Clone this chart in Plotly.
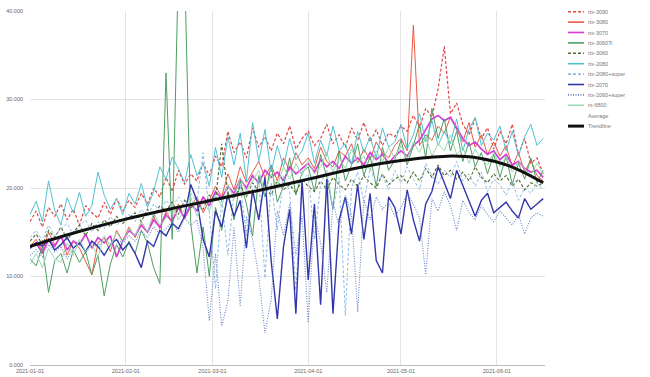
import pandas as pd
import plotly.graph_objects as go

# ---- data (values in thousands), one point every 2 days from 2021-01-01 ----
start_date = "2021-01-01"
n_points = 84

rtx3090 = [16.2, 17.4, 15.6, 17.8, 16.8, 18.2, 16.4, 17.6, 15.8, 18.0, 17.2, 16.6, 18.4, 17.0, 18.8, 17.4,
           18.6, 17.8, 19.4, 18.2, 20.0, 19.0, 21.2, 19.6, 22.0, 20.4, 21.6, 20.8, 22.8, 21.4,
           23.6, 22.4, 26.4, 24.0, 25.2, 23.4, 26.8, 24.6, 25.8, 24.2, 26.2, 25.0, 27.0, 24.4, 25.6,
           26.4, 24.8, 25.6, 27.2, 25.0, 26.0, 24.6, 26.8, 25.4, 27.4, 25.2, 26.6, 24.8, 26.2, 25.8,
           27.0, 26.4, 28.2, 26.8, 29.0, 28.0, 31.2, 36.0, 28.4, 29.6, 27.2, 26.0, 27.8, 25.6, 26.8, 24.4,
           26.4, 25.0, 27.2, 23.8, 25.6, 22.8, 23.4, 21.6]
rtx3080 = [13.4, 14.2, 12.8, 15.0, 13.6, 14.6, 12.4, 14.0, 13.2, 11.6, 10.2, 13.8, 14.4, 12.8, 15.2, 14.0,
           15.6, 14.4, 16.2, 15.0, 16.8, 15.4, 17.4, 16.0, 18.2, 16.6, 17.8, 19.0, 17.2, 18.6,
           20.2, 19.0, 21.6, 19.8, 22.4, 20.6, 21.8, 23.0, 21.2, 22.6, 20.8, 23.4, 22.0, 24.0, 22.6,
           23.4, 22.2, 24.6, 23.0, 22.4, 24.2, 23.6, 25.0, 22.8, 24.4, 23.2, 25.2, 24.0, 23.4, 24.8,
           25.6, 24.2, 38.4, 24.8, 26.0, 25.4, 27.0, 26.2, 28.0, 26.6, 25.2, 27.4, 24.6, 26.0, 23.8, 25.2,
           23.6, 24.8, 22.4, 24.0, 21.8, 23.2, 21.4, 20.8]
rtx3070 = [13.2, 13.8, 12.6, 14.2, 13.4, 14.6, 13.0, 14.0, 13.6, 14.8, 13.2, 14.4, 13.8, 14.6, 12.2, 14.0,
           15.2, 14.6, 15.8, 15.0, 16.4, 15.6, 17.0, 16.2, 17.8, 16.6, 18.2, 17.4, 19.0, 18.0,
           19.6, 18.8, 20.2, 19.4, 21.0, 20.0, 21.4, 20.6, 22.0, 21.2, 21.8, 20.8, 22.4, 21.6, 22.2,
           22.8, 21.8, 23.2, 22.4, 23.0, 22.2, 23.6, 22.8, 23.4, 22.6, 24.0, 23.2, 23.8, 22.8, 23.6,
           24.2, 23.6, 24.8, 25.4, 26.6, 27.8, 28.2, 27.6, 28.0, 26.8, 25.6, 24.8, 25.2, 24.4, 23.8, 24.2,
           23.2, 23.8, 22.6, 23.0, 22.2, 21.8, 22.0, 21.2]
rtx3060ti = [12.0, 11.2, 13.4, 8.2, 11.8, 12.6, 10.4, 13.0, 11.6, 12.8, 10.2, 12.4, 7.8, 11.4, 13.6, 12.2,
             14.0, 12.6, 15.2, 13.8, 11.0, 9.2, 33.0, 14.2, 45.0, 45.0, 16.0, 10.4, 15.6, 10.0,
             17.8, 15.2, 19.6, 16.4, 20.8, 18.2, 14.6, 21.4, 19.0, 22.6, 18.4, 20.2, 23.4, 19.2, 21.8,
             22.4, 19.6, 23.8, 21.2, 17.6, 24.2, 20.8, 22.6, 25.0, 21.4, 23.6, 20.2, 24.6, 22.0, 23.2,
             25.4, 22.6, 24.8, 27.2, 23.4, 29.0, 25.6, 27.8, 24.2, 26.4, 23.0, 25.2, 22.4, 24.0, 21.6, 23.8,
             21.2, 23.6, 20.4, 22.8, 21.0, 23.4, 20.6, 22.0]
rtx3060 = [14.0, 14.8, 13.6, 15.2, 14.4, 15.6, 14.2, 15.0, 15.8, 14.6, 16.0, 15.2, 16.4, 15.6, 16.8, 16.0,
           16.6, 17.2, 16.2, 17.6, 16.8, 18.0, 17.4, 18.4, 17.0, 18.6, 17.8, 18.2, 17.6, 19.2,
           18.6, 25.0, 19.4, 18.8, 20.2, 19.0, 20.6, 19.6, 20.0, 19.2, 20.8, 19.8, 20.4, 19.4, 21.0,
           20.2, 19.6, 20.8, 19.8, 21.2, 20.4, 19.8, 21.0, 20.2, 21.4, 20.6, 20.0, 21.6, 20.4, 21.0,
           21.4, 20.6, 21.8, 20.8, 22.2, 21.2, 22.6, 21.4, 22.0, 21.0, 21.8, 20.8, 22.4, 21.2, 20.6, 21.6,
           20.8, 21.4, 20.2, 21.0, 19.8, 20.6, 20.2, 20.6]
rtx2080 = [17.0, 18.5, 16.2, 20.8, 17.5, 15.8, 18.9, 17.2, 19.5, 16.8, 18.0, 21.8, 19.2, 17.6, 18.8, 17.0,
           19.4, 18.2, 20.5, 17.8, 19.6, 22.4, 21.0, 23.5, 22.2, 20.6, 23.8, 21.4, 22.8, 20.2,
           24.6, 21.2, 25.8, 22.6, 26.2, 20.8, 27.4, 23.0, 26.6, 21.8, 24.8, 22.4, 25.6, 23.2, 24.2,
           26.2, 22.8, 25.4, 23.6, 27.0, 24.2, 25.0, 22.6, 26.4, 24.0, 25.8, 23.4, 26.8, 24.6, 25.2,
           27.2, 24.4, 26.0, 28.4, 25.2, 27.6, 24.8, 26.4, 25.0, 27.8, 24.2, 26.6, 28.0, 24.8, 26.2, 25.4,
           27.0, 24.2, 26.4, 23.6, 25.8, 27.2, 24.8, 25.6]
rtx2080super = [14.4, 15.2, 14.0, 15.8, 14.6, 15.4, 16.0, 14.8, 15.6, 16.4, 15.0, 16.2, 15.4, 16.8, 15.8, 16.4,
                17.0, 16.2, 17.6, 16.8, 18.2, 17.4, 18.6, 17.8, 19.0, 18.0, 19.4, 18.4, 24.0, 17.2,
                8.6, 18.8, 12.4, 19.6, 20.4, 14.6, 19.8, 21.0, 9.8, 20.6, 15.2, 21.4, 19.6, 8.4, 20.8,
                21.6, 14.2, 20.4, 22.0, 17.6, 21.2, 5.6, 20.0, 21.8, 18.4, 22.2, 20.6, 21.4, 19.8, 22.0,
                20.6, 22.4, 21.0, 19.8, 22.8, 21.4, 20.4, 22.0, 21.2, 23.0, 20.8, 21.6, 20.2, 21.8, 19.6, 21.0,
                20.4, 19.2, 20.8, 18.6, 20.0, 19.4, 20.6, 19.8]
rtx2070 = [13.2, 13.8, 13.4, 14.2, 13.0, 13.6, 14.4, 13.2, 13.8, 12.8, 14.0, 13.4, 12.4, 13.6, 14.2, 13.0,
           13.8, 12.6, 11.0, 14.0, 13.4, 15.2, 14.6, 16.0, 15.4, 16.8, 20.4, 18.6, 14.2, 12.2,
           17.4, 15.6, 19.2, 16.8, 18.6, 13.2, 19.8, 16.4, 21.2, 11.8, 5.2, 13.4, 17.6, 5.8, 20.8,
           9.6, 18.2, 6.8, 21.0, 5.8, 16.4, 19.0, 14.8, 20.4, 14.2, 19.4, 11.8, 10.4, 19.0, 17.8,
           14.8, 19.8, 16.4, 14.0, 18.2, 19.6, 22.4, 20.6, 18.8, 22.0, 20.2, 18.4, 16.8, 18.6, 19.4, 17.2,
           17.8, 18.4, 17.4, 16.6, 18.8, 17.6, 18.2, 18.8]
rtx2060super = [12.4, 13.0, 12.2, 13.6, 12.8, 13.4, 12.0, 13.2, 14.0, 12.6, 13.8, 13.2, 14.4, 13.6, 14.2, 13.8,
                14.6, 14.0, 15.2, 14.4, 15.6, 14.8, 15.4, 16.2, 15.0, 16.6, 15.8, 16.4, 13.2, 5.0,
                12.6, 4.4, 7.2, 15.6, 6.6, 16.8, 14.2, 10.0, 3.6, 7.4, 17.4, 14.6, 18.2, 12.4, 16.8,
                4.8, 17.2, 13.8, 8.2, 18.4, 15.6, 19.2, 17.0, 6.0, 18.6, 16.4, 19.0, 17.6, 18.4, 16.8,
                17.8, 19.4, 18.2, 16.6, 10.2, 18.8, 17.4, 19.6, 18.0, 15.2, 18.6, 17.2, 16.4, 18.0, 17.0, 16.2,
                17.4, 16.6, 15.8, 17.0, 14.8, 16.6, 17.2, 16.8]
rx6800 = [11.4, 12.6, 11.0, 13.2, 12.0, 11.6, 13.8, 12.4, 14.2, 12.8, 13.6, 12.2, 14.6, 13.4, 15.0, 13.8,
          15.4, 14.6, 16.2, 15.0, 17.2, 15.8, 16.6, 18.0, 16.4, 17.6, 19.0, 16.8, 18.4, 17.4,
          19.2, 18.0, 20.4, 18.8, 21.2, 19.6, 20.8, 22.0, 19.4, 21.6, 20.2, 22.4, 21.0, 22.8, 21.4,
          23.0, 21.6, 22.4, 24.0, 21.8, 23.4, 22.2, 24.4, 22.8, 23.6, 22.0, 24.2, 23.0, 24.6, 23.4,
          24.8, 23.2, 25.2, 24.0, 25.8, 23.6, 25.0, 24.2, 26.0, 23.8, 24.6, 22.8, 24.4, 23.2, 22.6, 24.0,
          22.4, 23.6, 21.8, 23.0, 22.2, 21.4, 22.8, 21.6]

trend_dates = ["2021-01-01", "2021-01-16", "2021-01-31", "2021-02-15", "2021-03-02", "2021-03-17",
               "2021-04-01", "2021-04-16", "2021-05-01", "2021-05-16", "2021-05-26", "2021-06-05",
               "2021-06-16"]
trend_values = [13.4, 15.0, 16.4, 17.6, 18.7, 19.8, 21.0, 22.2, 23.1, 23.6, 23.4, 22.5, 20.6]

series_names = ["rtx-3090", "rtx-3080", "rtx-3070", "rtx-3060Ti", "rtx-3060", "rtx-2080",
                "rtx-2080+super", "rtx-2070", "rtx-2060+super", "rx-6800"]
series_values = [rtx3090, rtx3080, rtx3070, rtx3060ti, rtx3060, rtx2080,
                 rtx2080super, rtx2070, rtx2060super, rx6800]
legend_extra = ["Average", "Trendline"]
y_ticks = [0, 10, 20, 30, 40]

# ---- styles ----
styles = {
    "rtx-3090": dict(color="#e04646", width=1.2, dash="3px,2px"),
    "rtx-3080": dict(color="#e85a44", width=1.0, dash="solid"),
    "rtx-3070": dict(color="#d63fd6", width=1.7, dash="solid"),
    "rtx-3060Ti": dict(color="#4f9e62", width=1.0, dash="solid"),
    "rtx-3060": dict(color="#4e6a2c", width=1.1, dash="3px,2px"),
    "rtx-2080": dict(color="#52c0d4", width=1.0, dash="solid"),
    "rtx-2080+super": dict(color="#8fbce6", width=1.0, dash="3px,2px"),
    "rtx-2070": dict(color="#3236aa", width=1.4, dash="solid"),
    "rtx-2060+super": dict(color="#6684c6", width=1.1, dash="1px,1.5px"),
    "rx-6800": dict(color="#98dab4", width=1.0, dash="solid"),
    "Average": dict(color="rgba(0,0,0,0)", width=1, dash="solid"),
    "Trendline": dict(color="#111111", width=3, dash="solid"),
}

dates = pd.date_range(start_date, periods=n_points, freq="2D")

fig = go.Figure()
for name, vals in zip(series_names, series_values):
    st = styles[name]
    fig.add_trace(go.Scatter(x=dates, y=vals, mode="lines", name=name,
                             line=dict(color=st["color"], width=st["width"], dash=st["dash"]),
                             showlegend=False))
fig.add_trace(go.Scatter(x=pd.to_datetime(trend_dates), y=trend_values, mode="lines",
                         name="Trendline", line=dict(color="#111111", width=3, shape="spline"),
                         showlegend=False))

# ---- compact custom legend ----
W, H = 650, 377
ml, mr, mt, mb = 30, 105, 11, 12
pw, ph = W - ml - mr, H - mt - mb


def px_x(px):
    return (px - ml) / pw


def px_y(py):
    return (H - mb - py) / ph


legend_names = series_names + legend_extra
row0, row_gap = 11.7, 10.4
shapes = []
annotations = []
for k, name in enumerate(legend_names):
    yy = row0 + k * row_gap
    st = styles[name]
    if name != "Average":
        lw = 3 if name == "Trendline" else max(st["width"], 1.6)
        shapes.append(dict(type="line", xref="paper", yref="paper",
                           x0=px_x(568), x1=px_x(584), y0=px_y(yy), y1=px_y(yy),
                           line=dict(color=st["color"], width=lw, dash=st["dash"])))
    annotations.append(dict(xref="paper", yref="paper", x=px_x(586), y=px_y(yy),
                            xanchor="left", yanchor="middle", text=name, showarrow=False,
                            font=dict(size=5.5, color="#777777", family="Liberation Sans")))

fig.update_layout(
    width=W, height=H,
    margin=dict(l=ml, r=mr, t=mt, b=mb),
    paper_bgcolor="white", plot_bgcolor="white",
    showlegend=False,
    separators=".,",
    shapes=shapes, annotations=annotations,
    font=dict(family="Liberation Sans", size=5.5, color="#666666"),
)
fig.update_xaxes(range=["2021-01-01", "2021-06-16 14:00"], tick0="2021-01-01", dtick="M1",
                 tickformat="%Y-%m-%d", showgrid=True, gridcolor="#e4e4e4", gridwidth=1,
                 showline=True, linecolor="#bbbbbb", linewidth=1, ticks="", automargin=False,
                 tickfont=dict(size=5.5, color="#666666"), zeroline=False)
fig.update_yaxes(range=[0, 40], tickvals=y_ticks, tickformat=".3f", showgrid=True,
                 gridcolor="#e4e4e4", gridwidth=1, zeroline=False, ticks="",
                 ticklabelstandoff=6, automargin=False,
                 tickfont=dict(size=5.5, color="#666666"))

fig.write_html("out.html", config={"displayModeBar": False},
               post_script="document.body.style.margin='0';")
